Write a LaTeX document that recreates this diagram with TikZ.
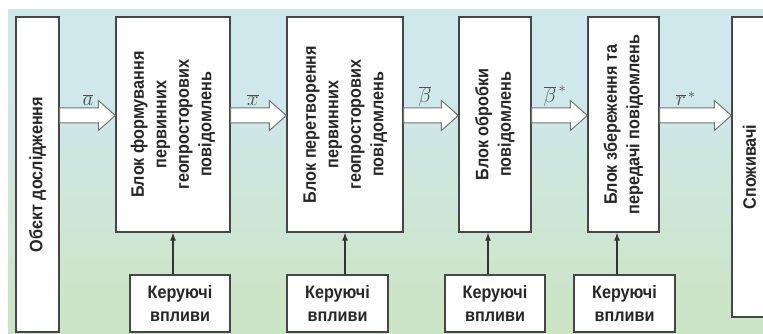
\documentclass[tikz,border=0pt]{standalone}
\usepackage{fontspec}
\setmainfont[FakeStretch=0.9]{Liberation Sans}
\usetikzlibrary{calc,arrows.meta}
\definecolor{bgtop}{RGB}{206,232,236}
\definecolor{bgbot}{RGB}{204,229,199}
\definecolor{bord}{RGB}{70,70,70}
\pgfdeclareverticalshading{bgshade}{100bp}{color(0bp)=(bgbot); color(30bp)=(bgbot); color(62bp)=(bgtop); color(100bp)=(bgtop)}
\newcommand\fatarrow[3]{%
  \draw[fatarr] ($(#1.east|-#3)+(0,-7.5)$) -- ($(#2.west|-#3)+(-17,-7.5)$)
    -- ($(#2.west|-#3)+(-17,-15)$) -- (#2.west|-#3) -- ($(#2.west|-#3)+(-17,15)$)
    -- ($(#2.west|-#3)+(-17,7.5)$) -- ($(#1.east|-#3)+(0,7.5)$) -- cycle;}
\newcommand\vtext[1]{\rotatebox{90}{\begin{tabular}{@{}c@{}}#1\end{tabular}}}
\begin{document}
\begin{tikzpicture}[x=1pt,y=-1pt,
  box/.style={draw=bord,line width=1.3pt,fill=white,inner sep=0pt,text=black!85,
    font=\fontsize{18}{22.5}\selectfont\bfseries},
  fatarr/.style={draw=black!55,line width=1pt,fill=white,line join=miter},
  ctl/.style={draw=black!80,line width=1.2pt,-{Latex[length=8pt,width=6pt]}},
  lbl/.style={inner sep=0pt,anchor=base,text=black!70,font=\fontsize{21}{21}\selectfont}]
\useasboundingbox (0,0) rectangle (763,334);
\shade[shading=bgshade] (8,10) rectangle (763,334);
\begin{scope}
\clip (0,0) rectangle (763,334);
\coordinate (ay) at (0,115.5);
% main boxes
\node[box,minimum width=43pt,minimum height=315pt] (b1) at (37.5,174.5) {\rotatebox{90}{Обєкт дослідження}};
\node[box,minimum width=114pt,minimum height=215pt] (b2) at (173,124.5) {\vtext{Блок формування\\первинних\\геопросторових\\повідомлень}};
\node[box,minimum width=116pt,minimum height=215pt] (b3) at (345,124.5) {\vtext{Блок перетворення\\первинних\\геопросторових\\повідомлень}};
\node[box,minimum width=72pt,minimum height=215pt] (b4) at (495,124.5) {\vtext{Блок обробки\\повідомлень}};
\node[box,minimum width=71pt,minimum height=215pt] (b5) at (623.5,124.5) {\vtext{Блок збереження та\\передачі повідомлень}};
\node[box,minimum width=35pt,minimum height=300pt] (b6) at (749.5,167) {\rotatebox{90}{Споживачі}};
% control boxes
\node[box,minimum width=100pt,minimum height=57pt,align=center] (c1) at (180,303.5) {Керуючі\\впливи};
\node[box,minimum width=101pt,minimum height=57pt,align=center] (c2) at (337.5,303.5) {Керуючі\\впливи};
\node[box,minimum width=100pt,minimum height=57pt,align=center] (c3) at (495,303.5) {Керуючі\\впливи};
\node[box,minimum width=101pt,minimum height=57pt,align=center] (c4) at (624.5,303.5) {Керуючі\\впливи};
% fat arrows
\fatarrow{b1}{b2}{ay}
\fatarrow{b2}{b3}{ay}
\fatarrow{b3}{b4}{ay}
\fatarrow{b4}{b5}{ay}
\fatarrow{b5}{b6}{ay}
% labels
\node[lbl] (la) at (88,106) {$\overline{a}$};
\node[lbl] (lx) at (253,106) {$\overline{x}$};
\node[lbl] (lb) at (425,103) {$\overline{\beta}$};
\node[lbl] (lbs) at (555,103) {$\overline{\beta}^{\,*}$};
\node[lbl] (lr) at (686,106) {$\overline{r}^{\,*}$};
% control arrows
\draw[ctl] (c1.north -| b2.south) -- (b2.south);
\draw[ctl] (c2.north -| b3.south) -- (b3.south);
\draw[ctl] ([xshift=-7pt]b4.south |- c3.north) -- ([xshift=-7pt]b4.south);
\draw[ctl] ([xshift=-6.5pt]b5.south |- c4.north) -- ([xshift=-6.5pt]b5.south);
\end{scope}
\end{tikzpicture}
\end{document}
